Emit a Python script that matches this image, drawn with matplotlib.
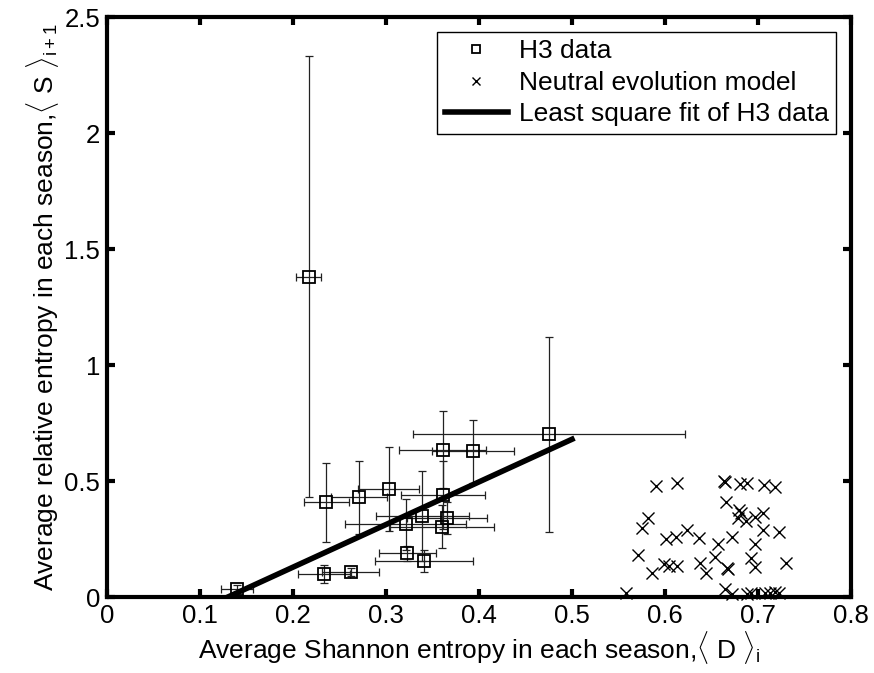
import matplotlib
matplotlib.use("Agg")
import matplotlib.pyplot as plt

plt.rcParams['font.family'] = ['Liberation Sans', 'DejaVu Sans']
plt.rcParams['mathtext.fontset'] = 'custom'
plt.rcParams['mathtext.rm'] = 'Liberation Sans'
plt.rcParams['mathtext.it'] = 'Liberation Sans'

# H3 data: mean Shannon entropy (x) vs mean relative entropy next season (y)
h3_x = [0.140, 0.2335, 0.262, 0.236, 0.271, 0.303, 0.321, 0.339, 0.323,
        0.341, 0.361, 0.394, 0.361, 0.366, 0.360, 0.217, 0.475]
h3_y = [0.035, 0.099, 0.108, 0.408, 0.430, 0.467, 0.313, 0.349, 0.188,
        0.154, 0.634, 0.628, 0.440, 0.340, 0.303, 1.381, 0.701]
h3_xerr = [0.017, 0.028, 0.031, 0.024, 0.030, 0.033, 0.065, 0.050, 0.031,
           0.053, 0.047, 0.044, 0.045, 0.043, 0.056, 0.0136, 0.146]
h3_yerr = [0.015, 0.040, 0.018, 0.169, 0.158, 0.181, 0.110, 0.195, 0.032,
           0.047, 0.166, 0.135, 0.146, 0.070, 0.093, 0.950, 0.420]

# neutral evolution model points
neutral_x = [0.590, 0.613, 0.663, 0.664, 0.681, 0.688, 0.706, 0.718, 0.666,
             0.582, 0.575, 0.680, 0.682, 0.678, 0.687, 0.697, 0.705, 0.705,
             0.723, 0.601, 0.612, 0.624, 0.637, 0.672, 0.657, 0.697, 0.571,
             0.654, 0.693, 0.599, 0.604, 0.613, 0.638, 0.667, 0.668, 0.697,
             0.730, 0.586, 0.644, 0.558, 0.665, 0.672, 0.688, 0.693, 0.707,
             0.713, 0.718, 0.723]
neutral_y = [0.478, 0.490, 0.501, 0.497, 0.486, 0.493, 0.483, 0.475, 0.411,
             0.339, 0.296, 0.375, 0.363, 0.339, 0.329, 0.346, 0.361, 0.289,
             0.282, 0.249, 0.260, 0.289, 0.254, 0.260, 0.228, 0.228, 0.181,
             0.174, 0.167, 0.142, 0.134, 0.134, 0.148, 0.124, 0.120, 0.128,
             0.145, 0.105, 0.105, 0.019, 0.033, 0.013, 0.013, 0.019, 0.016,
             0.019, 0.023, 0.016]

# least square fit endpoints
fit_x = [0.13, 0.50]
fit_y = [0.0, 0.68]

fig = plt.figure(figsize=(8.74, 6.73), dpi=100)
ax = fig.add_axes([0.1224, 0.1129, 0.8513, 0.8618])

ax.errorbar(h3_x, h3_y, xerr=h3_xerr, yerr=h3_yerr, fmt='none',
            ecolor='#222222', elinewidth=0.9, capsize=3, capthick=0.9, zorder=2)
ax.plot(h3_x, h3_y, 's', mfc='none', mec='k', ms=8, mew=1.3, zorder=3,
        label='H3 data', clip_on=False)
ax.plot(neutral_x, neutral_y, 'x', color='k', ms=8, mew=1.0, zorder=3,
        label='Neutral evolution model', clip_on=False)
ax.plot(fit_x, fit_y, '-', color='k', lw=4, zorder=4,
        label='Least square fit of H3 data')

ax.set_xlim(0, 0.8)
ax.set_ylim(0, 2.5)
ax.set_xticks([0, 0.1, 0.2, 0.3, 0.4, 0.5, 0.6, 0.7, 0.8])
ax.set_xticklabels(['0', '0.1', '0.2', '0.3', '0.4', '0.5', '0.6', '0.7', '0.8'])
ax.set_yticks([0, 0.5, 1, 1.5, 2, 2.5])
ax.set_yticklabels(['0', '0.5', '1', '1.5', '2', '2.5'])
ax.tick_params(direction='in', length=6, width=3, labelsize=18.5,
               top=True, right=True, pad=5)
for s in ax.spines.values():
    s.set_linewidth(3)

ax.set_xlabel(r'Average Shannon entropy in each season,$\langle$ D $\rangle_{\rm i}$',
              fontsize=19, labelpad=1)
ax.set_ylabel(r'Average relative entropy in each season,$\langle$ S $\rangle_{\rm i+1}$',
              fontsize=19, labelpad=2)

leg = ax.legend(loc='upper right', fontsize=19, handlelength=2.4,
                frameon=True, fancybox=False, framealpha=1, edgecolor='k',
                borderaxespad=0.55, labelspacing=0.28, handletextpad=0.4,
                borderpad=0.3, markerscale=0.7)
leg.get_frame().set_linewidth(1.0)

fig.savefig('out.png', dpi=100)
